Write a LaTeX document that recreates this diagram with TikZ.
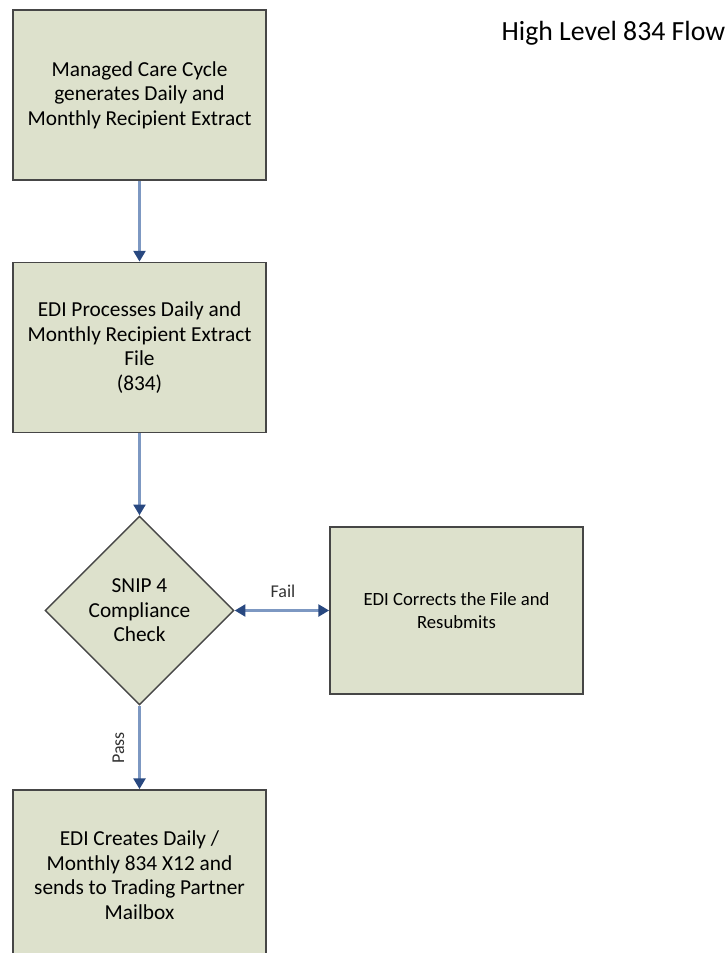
\documentclass[tikz,border=0pt]{standalone}
\usepackage{fontspec}
\setmainfont{Carlito}
\usetikzlibrary{shapes.geometric,arrows.meta}

\definecolor{boxfill}{RGB}{221,225,204}
\definecolor{boxline}{RGB}{70,70,70}
\definecolor{flowline}{RGB}{125,152,194}
\definecolor{flowtip}{RGB}{40,72,128}

\tikzset{
  stepbox/.style={draw=boxline, fill=boxfill, line width=1.4pt,
    minimum width=189.75pt, minimum height=127.5pt, align=center,
    font=\fontsize{16}{18.4}\selectfont},
  checkbox/.style={diamond, draw=boxline, fill=boxfill, line width=1.1pt,
    minimum size=141.75pt, inner sep=0pt, aspect=1, align=center,
    font=\fontsize{16}{18.4}\selectfont},
  flow/.style={draw=flowline, line width=1.6pt,
    -{Triangle[length=8pt,width=9pt,fill=flowtip,color=flowtip]}},
  twoway/.style={flow,
    {Triangle[length=8pt,width=9pt,fill=flowtip,color=flowtip]}-{Triangle[length=8pt,width=9pt,fill=flowtip,color=flowtip]}},
  flowlabel/.style={font=\fontsize{13.5}{15}\selectfont, text=black!80}
}

\begin{document}
\begin{tikzpicture}[x=0.75pt,y=-0.75pt]
\useasboundingbox (0,0) rectangle (728,953);
\clip (0,0) rectangle (728,953);

\node[font=\fontsize{20.8}{24}\selectfont, anchor=west] (title) at (497,33) {High Level 834 Flow};

% main column
\node[stepbox] (extract) at (139.5,95) {Managed Care Cycle\\generates Daily and\\Monthly Recipient Extract};
\node[stepbox] (process) at (139.5,347.5) {EDI Processes Daily and\\Monthly Recipient Extract\\File\\(834)};
\node[checkbox] (snip) at (139.5,610.5) {SNIP 4\\Compliance\\Check};
\node[stepbox] (create) at (139.5,875) {EDI Creates Daily /\\Monthly 834 X12 and\\sends to Trading Partner\\Mailbox};

% side branch
\node[stepbox, minimum height=125.25pt, font=\fontsize{14}{17.5}\selectfont] (correct) at (456.5,610.5) {EDI Corrects the File and\\Resubmits};

\draw[flow] (extract) -- (process);
\draw[flow] (process) -- (snip);
\draw[flow] (snip) -- (create);
\draw[twoway] (snip) -- (correct);

% branch labels
\node[flowlabel] (fail) at (283,591) {Fail};
\node[flowlabel, rotate=90] (pass) at (118.5,748) {Pass};
\end{tikzpicture}
\end{document}
